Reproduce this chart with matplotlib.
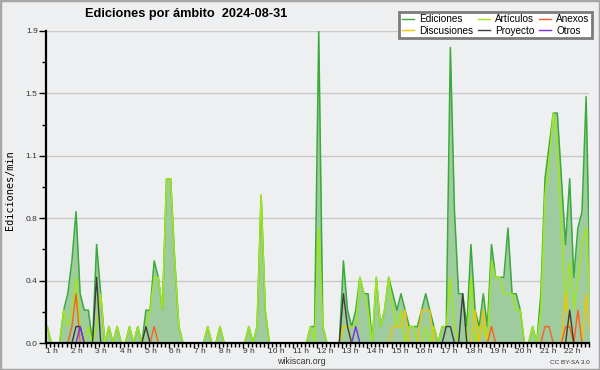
"""Edits per namespace over one day (wikiscan style), 10-minute bins."""
import numpy as np
import matplotlib
matplotlib.use("Agg")
import matplotlib.pyplot as plt
from matplotlib import font_manager
from matplotlib.lines import Line2D
from matplotlib.patches import Rectangle

# ── data: edits/min, one value per 10-minute bin from 01:00 to 23:00 ──────────
ediciones = [
    0.1, 0, 0, 0, 0.2, 0.3, 0.5, 0.8, 0.3, 0.2, 0.2, 0,
    0.6, 0.3, 0, 0.1, 0, 0.1, 0, 0, 0.1, 0, 0.1, 0,
    0.2, 0.2, 0.5, 0.4, 0.2, 1.0, 1.0, 0.5, 0.1, 0, 0, 0,
    0, 0, 0, 0.1, 0, 0, 0.1, 0, 0, 0, 0, 0,
    0, 0.1, 0, 0.1, 0.9, 0.2, 0, 0, 0, 0, 0, 0,
    0, 0, 0, 0, 0.1, 0.1, 1.9, 0.1, 0, 0, 0, 0,
    0.5, 0.2, 0.1, 0.2, 0.4, 0.3, 0.3, 0, 0.4, 0.1, 0.2, 0.4,
    0.3, 0.2, 0.3, 0.2, 0.1, 0.1, 0.1, 0.2, 0.3, 0.2, 0.1, 0,
    0.1, 0.1, 1.8, 0.8, 0.3, 0.3, 0.1, 0.6, 0.2, 0.1, 0.3, 0.1,
    0.6, 0.4, 0.4, 0.4, 0.7, 0.3, 0.3, 0.2, 0, 0, 0.1, 0,
    0.3, 1.0, 1.2, 1.4, 1.4, 1.0, 0.6, 1.0, 0.4, 0.7, 0.8, 1.5,
    0.3,
]
articulos = [
    0.1, 0, 0, 0, 0.2, 0.1, 0.2, 0.4, 0.1, 0, 0.1, 0,
    0.1, 0.3, 0, 0.1, 0, 0.1, 0, 0, 0.1, 0, 0.1, 0,
    0.1, 0.2, 0.4, 0.4, 0.2, 1.0, 1.0, 0.5, 0.1, 0, 0, 0,
    0, 0, 0, 0.1, 0, 0, 0.1, 0, 0, 0, 0, 0,
    0, 0.1, 0, 0.1, 0.9, 0.2, 0, 0, 0, 0, 0, 0,
    0, 0, 0, 0, 0.1, 0, 0.7, 0.1, 0, 0, 0, 0,
    0.1, 0.1, 0.1, 0.1, 0.4, 0.3, 0.2, 0, 0.4, 0.1, 0.2, 0.4,
    0.2, 0.1, 0.2, 0, 0.1, 0.1, 0, 0, 0.1, 0, 0.1, 0,
    0.1, 0.1, 0.4, 0.1, 0, 0, 0, 0.4, 0, 0.1, 0.1, 0,
    0.5, 0.4, 0.4, 0.3, 0.3, 0.3, 0.2, 0.2, 0, 0, 0.1, 0,
    0.2, 0.9, 1.1, 1.4, 1.2, 0.7, 0.2, 0.5, 0.2, 0.4, 0.6, 0.7,
    0.1,
]
discusiones = [
    0, 0, 0, 0, 0, 0, 0, 0, 0, 0, 0, 0,
    0, 0, 0, 0, 0, 0, 0, 0, 0, 0, 0, 0,
    0, 0, 0, 0, 0, 0, 0, 0, 0, 0, 0, 0,
    0, 0, 0, 0, 0, 0, 0, 0, 0, 0, 0, 0,
    0, 0, 0, 0, 0, 0, 0, 0, 0, 0, 0, 0,
    0, 0, 0, 0, 0, 0, 0, 0, 0, 0, 0, 0,
    0.1, 0.1, 0, 0, 0, 0, 0, 0, 0, 0, 0, 0,
    0.1, 0.1, 0.1, 0.2, 0, 0, 0, 0.2, 0.2, 0.2, 0, 0,
    0, 0, 0, 0, 0, 0, 0, 0, 0.2, 0, 0.2, 0,
    0, 0, 0, 0, 0, 0, 0, 0, 0, 0, 0, 0,
    0, 0, 0, 0, 0, 0, 0.3, 0.1, 0, 0, 0, 0.3,
    0,
]
anexos = [
    0, 0, 0, 0, 0, 0, 0.1, 0.3, 0, 0, 0, 0,
    0, 0, 0, 0, 0, 0, 0, 0, 0, 0, 0, 0,
    0, 0, 0.1, 0, 0, 0, 0, 0, 0, 0, 0, 0,
    0, 0, 0, 0, 0, 0, 0, 0, 0, 0, 0, 0,
    0, 0, 0, 0, 0, 0, 0, 0, 0, 0, 0, 0,
    0, 0, 0, 0, 0, 0, 0, 0, 0, 0, 0, 0,
    0, 0, 0, 0, 0, 0, 0, 0, 0, 0, 0, 0,
    0, 0, 0, 0, 0, 0, 0, 0, 0, 0, 0, 0,
    0, 0, 0, 0, 0, 0, 0, 0, 0, 0, 0, 0,
    0.1, 0, 0, 0, 0, 0, 0, 0, 0, 0, 0, 0,
    0, 0.1, 0.1, 0, 0, 0, 0.1, 0.1, 0, 0.2, 0, 0,
    0,
]
proyecto = [
    0, 0, 0, 0, 0, 0, 0, 0.1, 0.1, 0, 0, 0,
    0.4, 0, 0, 0, 0, 0, 0, 0, 0, 0, 0, 0,
    0.1, 0, 0, 0, 0, 0, 0, 0, 0, 0, 0, 0,
    0, 0, 0, 0, 0, 0, 0, 0, 0, 0, 0, 0,
    0, 0, 0, 0, 0, 0, 0, 0, 0, 0, 0, 0,
    0, 0, 0, 0, 0, 0, 0, 0, 0, 0, 0, 0,
    0.3, 0.1, 0, 0, 0, 0, 0, 0, 0, 0, 0, 0,
    0, 0, 0, 0, 0, 0, 0, 0, 0, 0, 0, 0,
    0, 0.1, 0.1, 0, 0, 0.3, 0, 0, 0, 0, 0, 0,
    0, 0, 0, 0, 0, 0, 0, 0, 0, 0, 0, 0,
    0, 0, 0, 0, 0, 0, 0, 0.2, 0, 0, 0, 0,
    0,
]
otros = [
    0, 0, 0, 0, 0, 0, 0, 0, 0.1, 0, 0, 0,
    0, 0, 0, 0, 0, 0, 0, 0, 0, 0, 0, 0,
    0, 0, 0, 0, 0, 0, 0, 0, 0, 0, 0, 0,
    0, 0, 0, 0, 0, 0, 0, 0, 0, 0, 0, 0,
    0, 0, 0, 0, 0, 0, 0, 0, 0, 0, 0, 0,
    0, 0, 0, 0, 0, 0, 0, 0, 0, 0, 0, 0,
    0, 0, 0, 0.1, 0, 0, 0, 0, 0, 0, 0, 0,
    0, 0, 0, 0, 0, 0, 0, 0, 0, 0, 0, 0,
    0, 0, 0, 0, 0, 0, 0, 0, 0, 0, 0, 0,
    0, 0, 0, 0, 0, 0, 0, 0, 0, 0, 0, 0,
    0, 0, 0, 0, 0, 0, 0, 0, 0, 0, 0, 0,
    0,
]
hour_labels = [f"{h} h" for h in range(1, 23)]
y_ticks = [0.0, 0.38, 0.76, 1.14, 1.52, 1.9]
y_labels = ["0.0", "0.4", "0.8", "1.1", "1.5", "1.9"]

TITLE = "Ediciones por ámbito  2024-08-31"

# ── style ────────────────────────────────────────────────────────────────────
BG = "#eeeff1"
C_EDIT, C_FILL = "#3aaa3a", "#9fcc9f"
C_ART, C_ANEX, C_DISC = "#a0e61a", "#ff5e1f", "#f5c400"
C_PROY, C_OTROS = "#3c3c3c", "#7a2cf0"


def pick_font(*names):
    avail = {f.name for f in font_manager.fontManager.ttflist}
    for n in names:
        if n in avail:
            return n
    return "DejaVu Sans"


NARROW = pick_font("Liberation Sans Narrow", "Liberation Sans", "DejaVu Sans")

t = 1 + (np.arange(len(ediciones)) + 0.3) / 6   # hours, bin positions

fig = plt.figure(figsize=(6, 3.7), dpi=100, facecolor=BG)
ax = fig.add_axes([46 / 600, 1 - 343 / 370, 543 / 600, 312 / 370])
ax.set_facecolor(BG)

for y in y_ticks[1:]:
    ax.axhline(y, color="#c9c9c9", lw=1.0, zorder=0)

ax.fill_between(t, ediciones, color=C_FILL, lw=0, zorder=1)
ax.plot(t, ediciones, color=C_EDIT, lw=1.1, zorder=2)
ax.plot(t, articulos, color=C_ART, lw=1.1, zorder=3)
ax.plot(t, discusiones, color=C_DISC, lw=1.0, zorder=4)
ax.plot(t, anexos, color=C_ANEX, lw=1.0, zorder=4)
ax.plot(t, proyecto, color=C_PROY, lw=1.0, zorder=5)
ax.plot(t, otros, color=C_OTROS, lw=1.0, zorder=5)

ax.set_xlim(1, 23)
ax.set_ylim(0, 1.9)
for s in ("top", "right"):
    ax.spines[s].set_visible(False)
for s in ("left", "bottom"):
    ax.spines[s].set_color("black")
    ax.spines[s].set_linewidth(1.6)
    ax.spines[s].set_zorder(10)

ax.set_yticks(y_ticks)
ax.set_yticklabels(y_labels, family=NARROW, fontsize=6, color="#333333")
ax.set_yticks([0.19, 0.57, 0.95, 1.33, 1.71], minor=True)
ax.tick_params(axis="y", which="major", length=5, width=1, pad=1)
ax.tick_params(axis="y", which="minor", length=3, width=1)

ax.set_xticks(np.arange(1, 23))
ax.set_xticklabels(hour_labels, family=NARROW, fontsize=6, ha="left",
                   color="#333333")
ax.set_xticks(np.arange(1, 23.01, 1 / 6), minor=True)
ax.tick_params(axis="x", which="major", length=3.5, width=1, pad=0)
ax.tick_params(axis="x", which="minor", length=3, width=1)

# ── texts ────────────────────────────────────────────────────────────────────
fig.text(85 / 600, 1 - 14 / 370, TITLE, family=NARROW, fontweight="bold",
         fontsize=9.2, ha="left", va="center")
fig.text(10 / 600, 1 - 190 / 370, "Ediciones/min", family="DejaVu Sans Mono",
         fontsize=7.4, rotation=90, ha="center", va="center")
fig.text(301 / 600, 1 - 362 / 370, "wikiscan.org", family=NARROW, fontsize=6.3,
         ha="center", va="center", color="#333333")
fig.text(590 / 600, 1 - 363 / 370, "CC BY-SA 3.0", family=NARROW, fontsize=4.6,
         ha="right", va="center", color="#333333")

# ── legend ───────────────────────────────────────────────────────────────────
names = ["Ediciones", "Discusiones", "Artículos", "Proyecto", "Anexos", "Otros"]
colors = [C_EDIT, C_DISC, C_ART, C_PROY, C_ANEX, C_OTROS]
handles = [Line2D([], [], color=c, lw=1) for c in colors]
leg = fig.legend(handles, names, ncol=3, loc="upper right",
                 bbox_to_anchor=(592 / 600, 1 - 12 / 370),
                 prop={"family": NARROW, "size": 7.2},
                 frameon=True, fancybox=False, edgecolor="#7c7c7c",
                 facecolor="white", framealpha=1, handlelength=1.2,
                 handletextpad=0.5, columnspacing=0.5, labelspacing=0.1,
                 borderpad=0.25, borderaxespad=0)
leg.get_frame().set_linewidth(2)

fig.patches.append(Rectangle((0, 0), 1, 1, transform=fig.transFigure,
                             fill=False, edgecolor="#a6a6a6", lw=2.5))

fig.savefig("out.png", dpi=100, facecolor=BG)
